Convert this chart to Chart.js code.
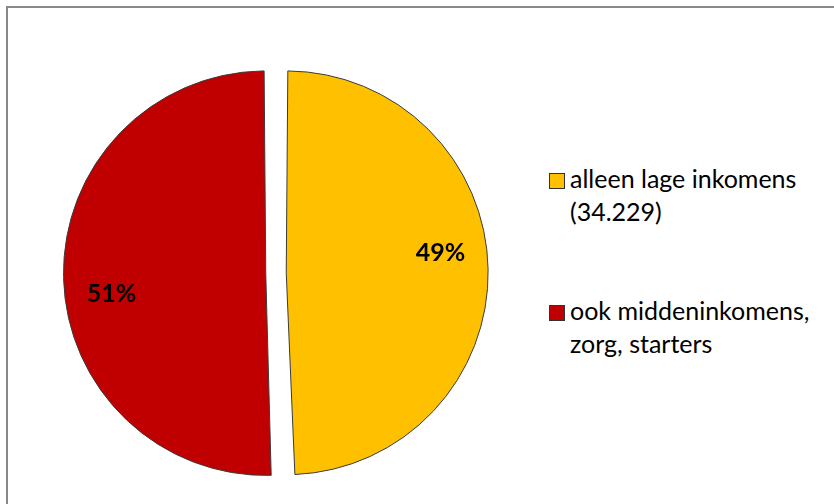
<!DOCTYPE html>
<html>
<head>
<meta charset="utf-8">
<script src="https://cdn.jsdelivr.net/npm/chart.js@4"></script>
<style>
  html, body { margin: 0; padding: 0; background: #fff; width: 834px; height: 504px; overflow: hidden; }
  #frame { position: absolute; left: 6px; top: 6px; width: 900px; height: 600px; border-left: 2px solid #898989; border-top: 2px solid #898989; }
  #wrap { position: absolute; left: 40px; top: 50px; width: 472px; height: 446px; }
  #legend { position: absolute; left: 549px; top: 0; font-family: Lato, "Open Sans", sans-serif; font-size: 25px; line-height: 33px; color: #000; }
  .item { position: absolute; left: 0; white-space: nowrap; }
  .sw { position: absolute; left: 0; width: 14px; height: 14px; border: 1px solid #333; }
  .tx { position: absolute; left: 21px; }
</style>
</head>
<body>
<div id="frame"></div>
<div id="wrap"><canvas id="c"></canvas></div>
<div id="legend"></div>
<script>
const categories = [["alleen lage inkomens", "(34.229)"], ["ook middeninkomens,", "zorg, starters"]];
const values = [34229, 35000];
const percentLabels = ["49%", "51%"];
const colors = ["#FFC000", "#C00000"];

const pctPlugin = {
  id: 'pctLabels',
  afterDatasetsDraw(chart, args, opts) {
    const ctx = chart.ctx;
    const meta = chart.getDatasetMeta(0);
    ctx.save();
    ctx.font = 'bold 25px Lato, "Open Sans", sans-serif';
    ctx.fillStyle = '#000';
    ctx.textAlign = 'center';
    ctx.textBaseline = 'middle';
    meta.data.forEach((arc, i) => {
      const mid = (arc.startAngle + arc.endAngle) / 2;
      const off = (arc.options.offset || 0) / 4;
      const cx = arc.x + Math.cos(mid) * off;
      const cy = arc.y + Math.sin(mid) * off;
      const a = mid + opts.angleShiftDeg * Math.PI / 180;
      const r = arc.outerRadius * opts.radiusFactor;
      ctx.fillText(percentLabels[i], cx + Math.cos(a) * r, cy + Math.sin(a) * r);
    });
    ctx.restore();
  }
};

new Chart(document.getElementById('c'), {
  type: 'pie',
  data: {
    labels: categories.map(c => c.join(' ')),
    datasets: [{
      data: values,
      backgroundColor: colors,
      borderColor: '#3a3a3a',
      borderWidth: 1,
      offset: 41
    }]
  },
  options: {
    responsive: true,
    maintainAspectRatio: false,
    animation: false,
    events: [],
    radius: 192,
    layout: { padding: 0 },
    plugins: {
      legend: { display: false },
      tooltip: { enabled: false },
      pctLabels: { radiusFactor: 0.81, angleShiftDeg: -6.5 }
    }
  },
  plugins: [pctPlugin]
});

const legend = document.getElementById('legend');
const tops = [162, 294];
categories.forEach((lines, i) => {
  const item = document.createElement('div');
  item.className = 'item';
  item.style.top = tops[i] + 'px';
  const sw = document.createElement('div');
  sw.className = 'sw';
  sw.style.background = colors[i];
  sw.style.top = '11px';
  const tx = document.createElement('div');
  tx.className = 'tx';
  tx.innerHTML = lines.join('<br>');
  item.appendChild(sw);
  item.appendChild(tx);
  legend.appendChild(item);
});
</script>
</body>
</html>
